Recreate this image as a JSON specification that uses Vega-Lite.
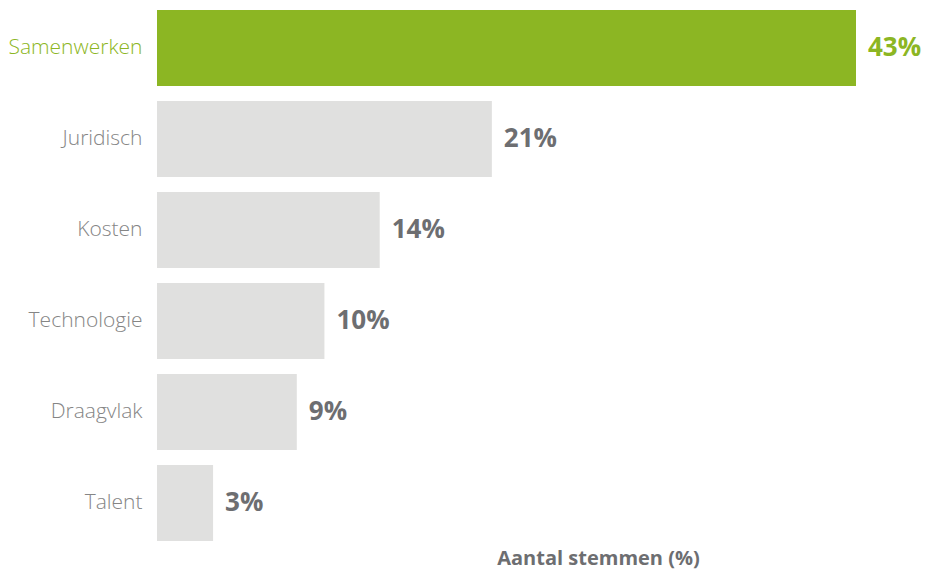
{
  "$schema": "https://vega.github.io/schema/vega-lite/v6.json",
  "autosize": {"type": "none"},
  "padding": {"left": 157, "top": 2.5, "right": 69, "bottom": 20.5},
  "width": 699,
  "height": 546,
  "background": "white",
  "config": {"view": {"stroke": null}, "font": "Open Sans"},
  "data": {
    "values": [
      {"categorie": "Samenwerken", "stemmen": 43, "label": "43%", "highlight": "ja"},
      {"categorie": "Juridisch", "stemmen": 20.6, "label": "21%", "highlight": "nee"},
      {"categorie": "Kosten", "stemmen": 13.7, "label": "14%", "highlight": "nee"},
      {"categorie": "Technologie", "stemmen": 10.3, "label": "10%", "highlight": "nee"},
      {"categorie": "Draagvlak", "stemmen": 8.6, "label": "9%", "highlight": "nee"},
      {"categorie": "Talent", "stemmen": 3.45, "label": "3%", "highlight": "nee"}
    ]
  },
  "encoding": {
    "y": {
      "field": "categorie",
      "type": "nominal",
      "sort": null,
      "scale": {"paddingInner": 0.165, "paddingOuter": 0.0825},
      "axis": {
        "title": null,
        "domain": false,
        "ticks": false,
        "labelPadding": 15,
        "labelFontSize": 21,
        "labelFont": "Open Sans",
        "labelFontWeight": 300,
        "labelColor": {"condition": {"test": "datum.value === 'Samenwerken'", "value": "#8cb623"}, "value": "#858585"}
      }
    },
    "x": {
      "field": "stemmen",
      "type": "quantitative",
      "scale": {"domain": [0, 43], "nice": false},
      "axis": {
        "title": "Aantal stemmen (%)",
        "labels": false,
        "ticks": false,
        "domain": false,
        "grid": false,
        "titleFont": "Open Sans",
        "titleFontSize": 20,
        "titleFontWeight": "bold",
        "titleColor": "#6d6e71",
        "titleX": 441,
        "titleY": 16,
        "titleAlign": "center",
        "titleBaseline": "alphabetic"
      }
    }
  },
  "layer": [
    {
      "mark": {"type": "bar"},
      "encoding": {
        "color": {"condition": {"test": "datum.highlight === 'ja'", "value": "#8cb623"}, "value": "#e0e0df"}
      }
    },
    {
      "mark": {"type": "text", "align": "left", "baseline": "middle", "dx": 12, "font": "Open Sans", "fontSize": 26, "fontWeight": "bold"},
      "encoding": {
        "text": {"field": "label"},
        "color": {"condition": {"test": "datum.highlight === 'ja'", "value": "#8cb623"}, "value": "#6d6e71"}
      }
    }
  ]
}
